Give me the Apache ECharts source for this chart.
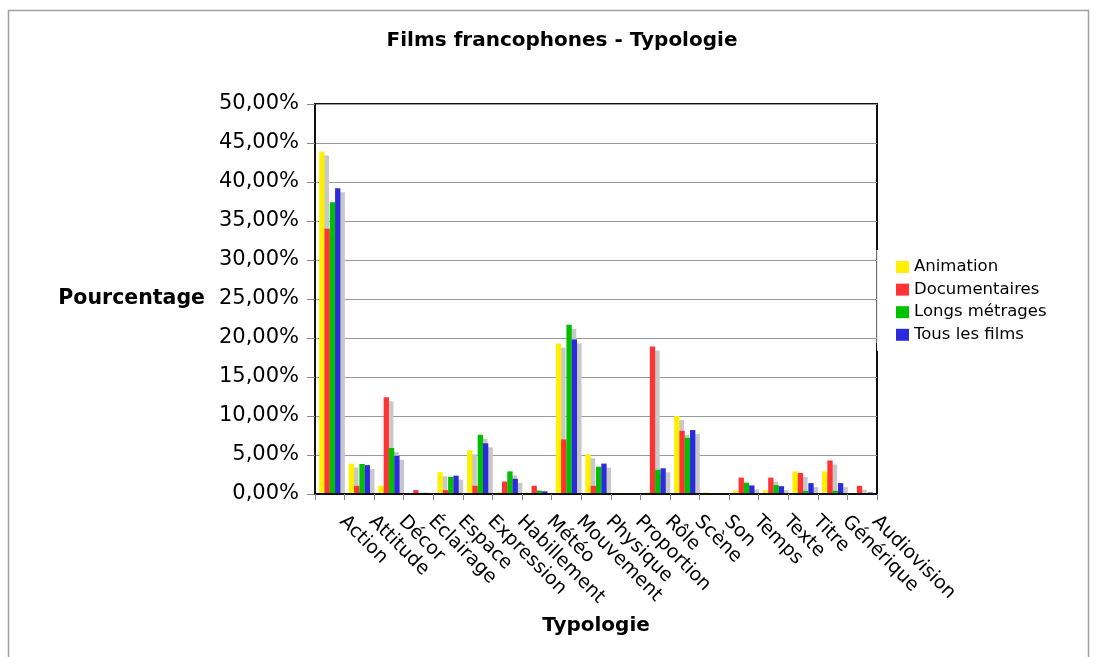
<!DOCTYPE html>
<html>
<head>
<meta charset="utf-8">
<title>Films francophones - Typologie</title>
<script src="https://cdn.jsdelivr.net/npm/echarts@6/dist/echarts.min.js"></script>
<style>
  html, body { margin: 0; padding: 0; background: #fff; }
  #chart { width: 1094px; height: 657px; }
</style>
</head>
<body>
<div id="chart"></div>
<script>
// Categories of the typology (x axis)
const categories = ['Action', 'Attitude', 'Décor', 'Éclairage', 'Espace', 'Expression',
  'Habillement', 'Météo', 'Mouvement', 'Physique', 'Proportion', 'Rôle', 'Scène', 'Son',
  'Temps', 'Texte', 'Titre', 'Générique', 'Audiovision'];

// Share of each type, in percent, per corpus
const animation      = [43.9, 3.9, 1.05, 0.1, 2.8, 5.6, 0.25, 0.2, 19.3, 5.1, 0.15, 0.2, 10.0, 0.2, 0.45, 0.45, 2.9, 2.9, 0.05];
const documentaires  = [34.0, 1.05, 12.4, 0.5, 0.5, 1.05, 1.6, 1.05, 7.0, 1.05, 0.05, 18.9, 8.1, 0.05, 2.1, 2.1, 2.7, 4.3, 1.05];
const longsMetrages  = [37.4, 3.85, 5.9, 0.15, 2.2, 7.6, 2.9, 0.4, 21.7, 3.5, 0.05, 3.1, 7.2, 0.05, 1.4, 1.15, 0.4, 0.4, 0.1];
const tousLesFilms   = [39.2, 3.7, 4.9, 0.15, 2.35, 6.5, 1.95, 0.35, 19.8, 3.9, 0.05, 3.3, 8.2, 0.05, 1.1, 1.0, 1.4, 1.4, 0.2];

const seriesNames = ['Animation', 'Documentaires', 'Longs métrages', 'Tous les films'];
const seriesData = [animation, documentaires, longsMetrages, tousLesFilms];
const seriesColors = ['#fff000', '#ff3333', '#00c000', '#2b2bdd'];

// Y axis: 0 % to 50 % in steps of 5
const yMin = 0, yMax = 50, yStep = 5;

const FONT = 'DejaVu Sans';

const chart = echarts.init(document.getElementById('chart'), null, { renderer: 'canvas' });

const series = seriesNames.map((name, i) => ({
  name: name,
  type: 'bar',
  data: seriesData[i],
  barWidth: 5.3,
  barGap: '0%',
  itemStyle: {
    color: seriesColors[i],
    shadowColor: '#c8c8c8',
    shadowBlur: 0,
    shadowOffsetX: 4.5,
    shadowOffsetY: 4
  },
  emphasis: { disabled: true },
  animation: false
}));

chart.setOption({
  animation: false,
  title: {
    text: 'Films francophones - Typologie',
    left: 557,
    top: 26,
    textAlign: 'center',
    textStyle: { fontFamily: FONT, fontWeight: 'bold', fontSize: 20, color: '#000' }
  },
  grid: {
    left: 315,
    right: 217,
    top: 104,
    bottom: 163,
    show: true,
    borderColor: '#111',
    borderWidth: 2,
    backgroundColor: 'transparent'
  },
  legend: {
    data: seriesNames,
    orient: 'vertical',
    left: 877,
    top: 250,
    padding: [7, 12, 6, 19],
    backgroundColor: '#fff',
    icon: 'rect',
    itemWidth: 13,
    itemHeight: 12,
    itemGap: 2.6,
    textStyle: { fontFamily: FONT, fontSize: 16.5, color: '#000', lineHeight: 20 },
    selectedMode: false,
    z: 10
  },
  xAxis: {
    type: 'category',
    data: categories,
    boundaryGap: true,
    // own layer so the ticks stay above the strip that trims bar shadows
    zlevel: 1,
    name: 'Typologie',
    nameLocation: 'middle',
    nameGap: 122,
    nameTextStyle: { fontFamily: FONT, fontWeight: 'bold', fontSize: 20, color: '#000' },
    axisLine: { show: true, lineStyle: { color: '#111', width: 2 } },
    axisTick: { show: true, length: 6, lineStyle: { color: '#888' } },
    axisLabel: {
      interval: 0,
      rotate: -45,
      margin: 12,
      padding: [0, 0, 0, 18],
      fontFamily: FONT,
      fontSize: 19,
      color: '#000'
    },
    splitLine: { show: false }
  },
  yAxis: {
    type: 'value',
    min: yMin,
    max: yMax,
    interval: yStep,
    name: 'Pourcentage',
    nameLocation: 'middle',
    nameRotate: 0,
    nameGap: 110,
    nameTextStyle: { fontFamily: FONT, fontWeight: 'bold', fontSize: 20.5, color: '#000', align: 'right' },
    axisLine: { show: true, lineStyle: { color: '#111', width: 2 } },
    axisTick: { show: true, length: 8, lineStyle: { color: '#888' } },
    axisLabel: {
      margin: 16,
      fontFamily: FONT,
      fontSize: 21,
      color: '#000',
      formatter: v => v.toFixed(2).replace('.', ',') + '%'
    },
    splitLine: { show: true, lineStyle: { color: '#999', width: 1 } }
  },
  graphic: [
    {
      // page frame around the chart
      type: 'rect',
      z: 0,
      silent: true,
      shape: { x: 8.5, y: 10.5, width: 1080, height: 700 },
      style: { fill: 'none', stroke: '#a0a0a0', lineWidth: 1.5 }
    },
    {
      // caption above the frame (mostly out of view)
      type: 'text',
      z: 0,
      silent: true,
      left: 28,
      top: -21,
      style: {
        text: 'Figure 11 : Typologie des films francophones',
        font: 'bold 20px "Liberation Serif"',
        fill: '#000'
      }
    },
    {
      // keeps bar shadows from spilling under the category axis
      type: 'rect',
      z: 3,
      silent: true,
      shape: { x: 312, y: 495, width: 572, height: 5 },
      style: { fill: '#fff' }
    },
    {
      // light edge on the left of the legend box
      type: 'line',
      z: 100,
      silent: true,
      shape: { x1: 877, y1: 250, x2: 877, y2: 343 },
      style: { stroke: '#cfcfcf', lineWidth: 1 }
    }
  ],
  series: series
});
</script>
</body>
</html>
